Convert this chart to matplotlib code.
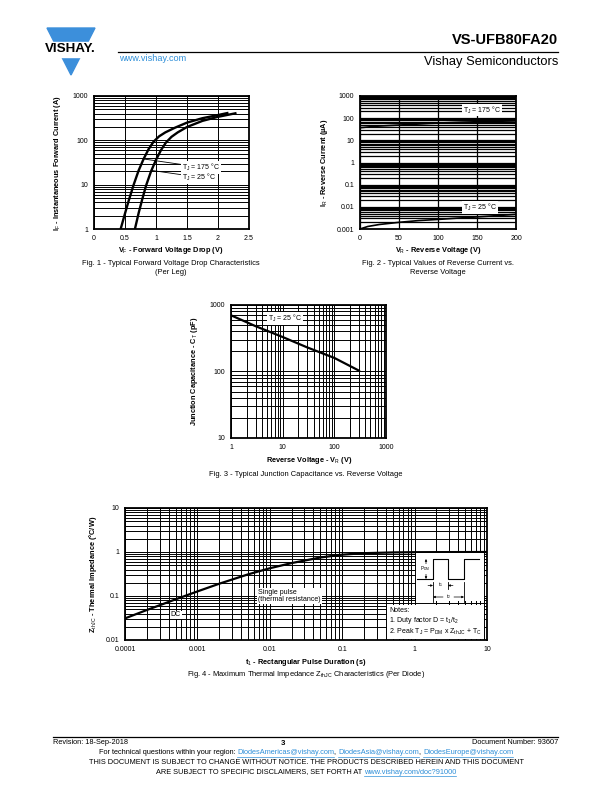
import matplotlib
matplotlib.use("Agg")
import matplotlib.pyplot as plt
import matplotlib.ticker as mticker
from matplotlib.patches import Polygon, Rectangle
from matplotlib.lines import Line2D
import numpy as np

plt.rcParams['font.family'] = ['Liberation Sans', 'DejaVu Sans']
plt.rcParams['mathtext.fontset'] = 'custom'
plt.rcParams['mathtext.rm'] = 'Liberation Sans'
plt.rcParams['mathtext.it'] = 'Liberation Sans'
plt.rcParams['mathtext.bf'] = 'Liberation Sans:bold'

W, H = 612, 792
BLUE = '#2f8fd8'

# ---- data ----
# Fig 1 - forward voltage drop
vf_175 = [0.43, 0.50, 0.56, 0.64, 0.72, 0.80, 0.88, 0.96, 1.05, 1.15, 1.30, 1.50, 1.75, 2.00, 2.15]
if_175 = [1, 2.24, 4.37, 10, 20.9, 38, 63, 93, 123, 151, 191, 251, 316, 372, 412]
vf_25 = [0.66, 0.72, 0.78, 0.84, 0.92, 1.00, 1.08, 1.16, 1.25, 1.35, 1.50, 1.75, 2.00, 2.28]
if_25 = [1, 2.29, 4.79, 9.55, 20, 36.3, 60, 89, 120, 151, 200, 275, 339, 407]
fig1_xticks = [0, 0.5, 1, 1.5, 2, 2.5]
fig1_xlabels = ['0', '0.5', '1', '1.5', '2', '2.5']
fig1_yticks = [1, 10, 100, 1000]

# Fig 2 - reverse current
vr_175 = [0, 10, 20, 35, 50, 70, 90, 110, 130, 150, 170, 200]
ir_175 = [37, 40, 43, 46, 49, 53, 58, 62, 66, 69, 72, 75]
vr_25 = [0, 10, 25, 50, 75, 100, 125, 150, 175, 200]
ir_25 = [0.001, 0.0013, 0.0016, 0.002, 0.0024, 0.0027, 0.0031, 0.0035, 0.004, 0.0046]
fig2_xticks = [0, 50, 100, 150, 200]
fig2_yticks = [0.001, 0.01, 0.1, 1, 10, 100, 1000]
fig2_ylabels = ['0.001', '0.01', '0.1', '1', '10', '100', '1000']

# Fig 3 - junction capacitance
vr_cap = [1, 3, 10, 30, 100, 300]
ct_cap = [700, 480, 330, 230, 160, 103]
fig3_ticks = [1, 10, 100, 1000]
fig3_yticks = [10, 100, 1000]

# Fig 4 - thermal impedance
t_pulse = [1e-4, 2e-4, 5e-4, 1e-3, 2e-3, 5e-3, 1e-2, 2e-2, 5e-2, 0.1, 0.2, 0.5, 1, 10]
z_th = [0.031, 0.048, 0.084, 0.127, 0.19, 0.31, 0.427, 0.56, 0.75, 0.87, 0.94, 0.977, 0.99, 1.0]
fig4_xticks = [1e-4, 1e-3, 1e-2, 0.1, 1, 10]
fig4_xlabels = ['0.0001', '0.001', '0.01', '0.1', '1', '10']
fig4_yticks = [0.01, 0.1, 1, 10]
fig4_ylabels = ['0.01', '0.1', '1', '10']

fig = plt.figure(figsize=(W / 100, H / 100), dpi=100)


def fx(x):
    return x / W


def fy(y):
    return 1 - y / H


def px_axes(l, t, r, b):
    return fig.add_axes([l / W, 1 - b / H, (r - l) / W, (b - t) / H])


def ftext(x, y, s, **kw):
    return fig.text(fx(x), fy(y), s, **kw)


def style(ax, lw_grid=0.7):
    ax.set_axisbelow(True)
    ax.grid(True, which='both', color='black', lw=lw_grid)
    for sp in ax.spines.values():
        sp.set_linewidth(1.3)
    ax.tick_params(which='both', length=0, labelsize=5, pad=4)


box = dict(facecolor='white', edgecolor='none', pad=0.6)

# ---- header ----
fig.patches.append(Polygon([[fx(47), fy(28)], [fx(95), fy(28)], [fx(71), fy(75)]],
                           closed=True, transform=fig.transFigure, color='#3c8fdb'))
fig.patches.append(Rectangle((fx(43), fy(57)), fx(56), 15 / H, transform=fig.transFigure,
                             color='white'))
ftext(70, 49.5, 'VISHAY.', fontsize=9.6, fontweight='bold', ha='center', va='center')
ftext(558, 40, 'VS-UFB80FA20', fontsize=10.5, fontweight='bold', ha='right', va='center')
fig.add_artist(Line2D([fx(118), fx(558)], [fy(52), fy(52)], color='black', lw=0.9))
ftext(119, 58.5, 'www.vishay.com', fontsize=6.6, color=BLUE, ha='left', va='center')
ftext(558, 62, 'Vishay Semiconductors', fontsize=9.3, ha='right', va='center')

# ---- Fig 1 ----
ax1 = px_axes(94, 96, 249, 229)
ax1.set_yscale('log')
ax1.set_xlim(0, 2.5)
ax1.set_ylim(1, 1000)
ax1.set_xticks(fig1_xticks)
ax1.set_xticklabels(fig1_xlabels)
ax1.xaxis.set_minor_locator(mticker.NullLocator())
ax1.set_yticks(fig1_yticks)
ax1.yaxis.set_major_formatter(mticker.FuncFormatter(lambda v, p: '%g' % v))
ax1.yaxis.set_minor_locator(mticker.LogLocator(base=10, subs=np.arange(2, 10)))
ax1.yaxis.set_minor_formatter(mticker.NullFormatter())
style(ax1)
ax1.plot(vf_175, if_175, color='black', lw=1.7, solid_joinstyle='round')
ax1.plot(vf_25, if_25, color='black', lw=1.7, solid_joinstyle='round')
ax1.annotate('T$_J$ = 175 °C', xy=(0.80, 38), xytext=(1.42, 24.6), fontsize=5, ha='left',
             va='center', bbox=box, arrowprops=dict(arrowstyle='-', lw=0.6, shrinkA=0, shrinkB=0))
ax1.annotate('T$_J$ = 25 °C', xy=(0.925, 21), xytext=(1.42, 14.7), fontsize=5, ha='left',
             va='center', bbox=box, arrowprops=dict(arrowstyle='-', lw=0.6, shrinkA=0, shrinkB=0))
ftext(58, 163, 'I$_F$ - Instantaneous Forward Current (A)', fontsize=5.3, fontweight='bold',
      rotation=90, ha='center', va='center')
ftext(171, 250, 'V$_F$ - Forward Voltage Drop (V)', fontsize=5.3, fontweight='bold',
      ha='center', va='center')
ftext(171, 264, 'Fig. 1 - Typical Forward Voltage Drop Characteristics', fontsize=5.4,
      ha='center', va='center')
ftext(171, 273, '(Per Leg)', fontsize=5.4, ha='center', va='center')

# ---- Fig 2 ----
ax2 = px_axes(360, 96, 516, 229)
ax2.set_yscale('log')
ax2.set_xlim(0, 200)
ax2.set_ylim(0.001, 1000)
ax2.set_xticks(fig2_xticks)
ax2.xaxis.set_minor_locator(mticker.NullLocator())
ax2.set_yticks(fig2_yticks)
ax2.set_yticklabels(fig2_ylabels)
ax2.yaxis.set_minor_locator(mticker.LogLocator(base=10, subs=np.arange(2, 10), numticks=20))
ax2.yaxis.set_minor_formatter(mticker.NullFormatter())
style(ax2, lw_grid=0.9)
ax2.plot(vr_175, ir_175, color='black', lw=1.2)
ax2.plot(vr_25, ir_25, color='black', lw=1.2)
ax2.text(132, 235, 'T$_J$ = 175 °C', fontsize=5, ha='left', va='center', bbox=box)
ax2.text(132, 0.0097, 'T$_J$ = 25 °C', fontsize=5, ha='left', va='center', bbox=box)
ftext(325, 163, 'I$_R$ - Reverse Current (µA)', fontsize=5.3, fontweight='bold',
      rotation=90, ha='center', va='center')
ftext(438, 250, 'V$_R$ - Reverse Voltage (V)', fontsize=5.3, fontweight='bold',
      ha='center', va='center')
ftext(438, 264, 'Fig. 2 - Typical Values of Reverse Current vs.', fontsize=5.4,
      ha='center', va='center')
ftext(438, 273, 'Reverse Voltage', fontsize=5.4, ha='center', va='center')

# ---- Fig 3 ----
ax3 = px_axes(231, 305, 386, 438)
ax3.set_xscale('log')
ax3.set_yscale('log')
ax3.set_xlim(1, 1000)
ax3.set_ylim(10, 1000)
ax3.set_xticks(fig3_ticks)
ax3.set_yticks(fig3_yticks)
for a in (ax3.xaxis, ax3.yaxis):
    a.set_major_formatter(mticker.FuncFormatter(lambda v, p: '%g' % v))
    a.set_minor_locator(mticker.LogLocator(base=10, subs=np.arange(2, 10)))
    a.set_minor_formatter(mticker.NullFormatter())
style(ax3)
ax3.plot(vr_cap, ct_cap, color='black', lw=1.6)
ax3.text(5.1, 630, 'T$_J$ = 25 °C', fontsize=5, ha='left', va='center', bbox=box)
ftext(195, 371, 'Junction Capacitance - C$_T$ (pF)', fontsize=5.3, fontweight='bold',
      rotation=90, ha='center', va='center')
ftext(309, 460, 'Reverse Voltage - V$_R$ (V)', fontsize=5.3, fontweight='bold',
      ha='center', va='center')
ftext(306, 474, 'Fig. 3 - Typical Junction Capacitance vs. Reverse Voltage', fontsize=5.4,
      ha='center', va='center')

# ---- Fig 4 ----
ax4 = px_axes(125, 508, 487, 640)
ax4.set_xscale('log')
ax4.set_yscale('log')
ax4.set_xlim(1e-4, 10)
ax4.set_ylim(0.01, 10)
ax4.set_xticks(fig4_xticks)
ax4.set_xticklabels(fig4_xlabels)
ax4.set_yticks(fig4_yticks)
ax4.set_yticklabels(fig4_ylabels)
for a in (ax4.xaxis, ax4.yaxis):
    a.set_minor_locator(mticker.LogLocator(base=10, subs=np.arange(2, 10), numticks=20))
    a.set_minor_formatter(mticker.NullFormatter())
style(ax4)
ax4.plot(t_pulse, z_th, color='black', lw=1.6, solid_joinstyle='round')
ax4.text(4.3e-4, 0.037, 'DC', fontsize=5, ha='left', va='center', bbox=box)
ax4.text(0.0069, 0.1, 'Single pulse\n(thermal resistance)', fontsize=5, ha='left',
         va='center', linespacing=1.1, bbox=box)


# waveform inset and notes (axes fraction coordinates)
def ax4_frac(x, y):
    return ((x - 125) / 362, (640 - y) / 132)


x0, y0 = ax4_frac(416, 601)
x1, y1 = ax4_frac(484, 553)
ax4.add_patch(Rectangle((x0, y0), x1 - x0, y1 - y0, transform=ax4.transAxes,
                        facecolor='white', edgecolor='none', zorder=3))
x0, y0 = ax4_frac(387, 639)
x1, y1 = ax4_frac(484, 605)
ax4.add_patch(Rectangle((x0, y0), x1 - x0, y1 - y0, transform=ax4.transAxes,
                        facecolor='white', edgecolor='none', zorder=3))
wave_x = [417, 433, 433, 448, 448, 464, 464, 479]
wave_y = [579, 579, 559, 559, 579, 579, 559, 559]
pts = [ax4_frac(a, b) for a, b in zip(wave_x, wave_y)]
ax4.plot([p[0] for p in pts], [p[1] for p in pts], transform=ax4.transAxes, color='black',
         lw=0.8, zorder=4)
for (xa, ya), (xb, yb) in [((433, 582), (433, 602)), ((448, 582), (448, 589)),
                           ((464, 582), (464, 602))]:
    pa, pb = ax4_frac(xa, ya), ax4_frac(xb, yb)
    ax4.plot([pa[0], pb[0]], [pa[1], pb[1]], transform=ax4.transAxes, color='black', lw=0.6,
             zorder=4)
arr = dict(arrowstyle='-|>', lw=0.5, color='black', mutation_scale=3, shrinkA=0, shrinkB=0)
# P_DM
ax4.annotate('', xy=ax4_frac(426, 559), xytext=ax4_frac(426, 569), xycoords='axes fraction',
             textcoords='axes fraction', arrowprops=arr, zorder=5)
ax4.annotate('', xy=ax4_frac(426, 579), xytext=ax4_frac(426, 569), xycoords='axes fraction',
             textcoords='axes fraction', arrowprops=arr, zorder=5)
pt = ax4_frac(424.5, 569)
ax4.text(pt[0], pt[1], 'P$_{DM}$', fontsize=3.3, ha='center', va='center',
         transform=ax4.transAxes, zorder=6, bbox=dict(facecolor='white', edgecolor='none', pad=0.2))
# t1 (arrows pointing inward)
ax4.annotate('', xy=ax4_frac(433, 585.5), xytext=ax4_frac(428, 585.5), xycoords='axes fraction',
             textcoords='axes fraction', arrowprops=arr, zorder=5)
ax4.annotate('', xy=ax4_frac(448, 585.5), xytext=ax4_frac(453, 585.5), xycoords='axes fraction',
             textcoords='axes fraction', arrowprops=arr, zorder=5)
pt = ax4_frac(440.5, 585)
ax4.text(pt[0], pt[1], 't$_1$', fontsize=3.5, ha='center', va='center',
         transform=ax4.transAxes, zorder=6)
# t2
ax4.annotate('', xy=ax4_frac(433, 597), xytext=ax4_frac(443, 597), xycoords='axes fraction',
             textcoords='axes fraction', arrowprops=arr, zorder=5)
ax4.annotate('', xy=ax4_frac(464, 597), xytext=ax4_frac(454, 597), xycoords='axes fraction',
             textcoords='axes fraction', arrowprops=arr, zorder=5)
pt = ax4_frac(448.5, 597)
ax4.text(pt[0], pt[1], 't$_2$', fontsize=3.5, ha='center', va='center',
         transform=ax4.transAxes, zorder=6)
pt = ax4_frac(389, 622)
ax4.text(pt[0], pt[1], 'Notes:\n1. Duty factor D = t$_1$/t$_2$\n'
         '2. Peak T$_J$ = P$_{DM}$ x Z$_{thJC}$ + T$_C$',
         fontsize=5, ha='left', va='center', linespacing=1.15, transform=ax4.transAxes, zorder=6)

ftext(93, 574, 'Z$_{thJC}$ - Thermal Impedance (°C/W)', fontsize=5.3, fontweight='bold',
      rotation=90, ha='center', va='center')
ftext(306, 663, 't$_1$ - Rectangular Pulse Duration (s)', fontsize=5.3, fontweight='bold',
      ha='center', va='center')
ftext(306, 675, 'Fig. 4 - Maximum Thermal Impedance Z$_{thJC}$ Characteristics (Per Diode)',
      fontsize=5.4, ha='center', va='center')

# ---- footer ----
fig.add_artist(Line2D([fx(53), fx(558)], [fy(737), fy(737)], color='black', lw=0.9))
ftext(53, 742.5, 'Revision: 18-Sep-2018', fontsize=5.3, ha='left', va='center')
ftext(283, 743.5, '3', fontsize=5.6, fontweight='bold', ha='center', va='center')
ftext(558, 742.5, 'Document Number: 93607', fontsize=5.3, ha='right', va='center')

renderer = fig.canvas.get_renderer()


def seq_line(y, pieces, cx=306, size=5.3):
    arts = []
    for s, link in pieces:
        t = ftext(0, y, s, fontsize=size, color=BLUE if link else 'black', ha='left',
                  va='center')
        arts.append((t, link))
    widths = [t.get_window_extent(renderer).width for t, _ in arts]
    x = cx - sum(widths) / 2
    for (t, link), w in zip(arts, widths):
        t.set_x(fx(x))
        if link:
            fig.add_artist(Line2D([fx(x), fx(x + w)], [fy(y + 3.6), fy(y + 3.6)], color=BLUE,
                                  lw=0.5))
        x += w


seq_line(753, [('For technical questions within your region: ', False),
               ('DiodesAmericas@vishay.com', True), (', ', False),
               ('DiodesAsia@vishay.com', True), (', ', False),
               ('DiodesEurope@vishay.com', True)])
seq_line(763, [('THIS DOCUMENT IS SUBJECT TO CHANGE WITHOUT NOTICE. THE PRODUCTS DESCRIBED '
                'HEREIN AND THIS DOCUMENT', False)])
seq_line(772, [('ARE SUBJECT TO SPECIFIC DISCLAIMERS, SET FORTH AT ', False),
               ('www.vishay.com/doc?91000', True)])

fig.savefig('out.png', dpi=100)
